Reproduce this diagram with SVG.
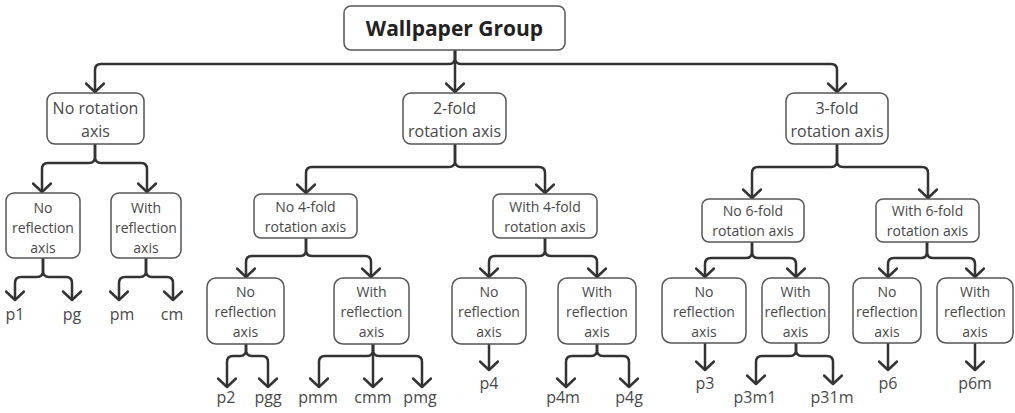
<svg xmlns="http://www.w3.org/2000/svg" width="1015" height="413" viewBox="0 0 1015 413">
<style>
.box{fill:#fff;stroke:#555;stroke-width:1.5}
.t{font-family:"Open Sans","Liberation Sans",sans-serif;fill:#484848;text-anchor:middle}
.t16{font-size:16px}
.t14{font-size:14px}
.leaf{font-family:"Open Sans","Liberation Sans",sans-serif;fill:#484848;text-anchor:middle;font-size:16px}
.root{font-family:"Open Sans","Liberation Sans",sans-serif;font-weight:bold;font-size:21px;fill:#222;text-anchor:middle}
.c{fill:none;stroke:#333;stroke-width:2.5;marker-end:url(#ah)}
</style>
<defs>
<marker id="ah" viewBox="0 0 20 20" refX="10" refY="10" markerUnits="userSpaceOnUse" markerWidth="20" markerHeight="20" orient="auto">
<path d="M1.5,1 L10,10 L1.5,19" fill="none" stroke="#333" stroke-width="2.5" stroke-linecap="round" stroke-linejoin="round"/>
</marker>
</defs>
<rect width="1015" height="413" fill="#fff"/>
<g id="connectors">
<path class="c" d="M455,50 V58 Q455,64 449,64 H101 Q95,64 95,70 V92"/>
<path class="c" d="M455,50 V92"/>
<path class="c" d="M455,50 V58 Q455,64 461,64 H831 Q837,64 837,70 V92"/>
<path class="c" d="M95,144 V157 Q95,163 89,163 H48 Q42,163 42,169 V192"/>
<path class="c" d="M95,144 V157 Q95,163 101,163 H141 Q147,163 147,169 V192"/>
<path class="c" d="M455,144 V161 Q455,167 449,167 H312 Q306,167 306,173 V193"/>
<path class="c" d="M455,144 V161 Q455,167 461,167 H539 Q545,167 545,173 V193"/>
<path class="c" d="M837,144 V161 Q837,167 831,167 H758 Q752,167 752,173 V198"/>
<path class="c" d="M837,144 V161 Q837,167 843,167 H922 Q928,167 928,173 V198"/>
<path class="c" d="M43,258 V271 Q43,277 37,277 H21 Q15,277 15,283 V300"/>
<path class="c" d="M43,258 V271 Q43,277 49,277 H66 Q72,277 72,283 V300"/>
<path class="c" d="M146,258 V271 Q146,277 140,277 H125 Q119,277 119,283 V300"/>
<path class="c" d="M146,258 V271 Q146,277 152,277 H167 Q173,277 173,283 V300"/>
<path class="c" d="M306,238 V250 Q306,256 300,256 H252 Q246,256 246,262 V277"/>
<path class="c" d="M306,238 V250 Q306,256 312,256 H365 Q371,256 371,262 V277"/>
<path class="c" d="M545,238 V250 Q545,256 539,256 H495 Q489,256 489,262 V277"/>
<path class="c" d="M545,238 V250 Q545,256 551,256 H591 Q597,256 597,262 V277"/>
<path class="c" d="M752,242 V252 Q752,258 746,258 H711 Q705,258 705,264 V277"/>
<path class="c" d="M752,242 V252 Q752,258 758,258 H790 Q796,258 796,264 V277"/>
<path class="c" d="M927,242 V252 Q927,258 921,258 H894 Q888,258 888,264 V277"/>
<path class="c" d="M927,242 V252 Q927,258 933,258 H969 Q975,258 975,264 V277"/>
<path class="c" d="M246,344 V350 Q246,356 240,356 H233 Q227,356 227,362 V387"/>
<path class="c" d="M246,344 V350 Q246,356 252,356 H262 Q268,356 268,362 V387"/>
<path class="c" d="M373,344 V350 Q373,356 367,356 H325 Q319,356 319,362 V387"/>
<path class="c" d="M373,344 V387"/>
<path class="c" d="M373,344 V350 Q373,356 379,356 H416 Q422,356 422,362 V387"/>
<path class="c" d="M489,344 V370"/>
<path class="c" d="M597,344 V350 Q597,356 591,356 H572 Q566,356 566,362 V387"/>
<path class="c" d="M597,344 V350 Q597,356 603,356 H623 Q629,356 629,362 V387"/>
<path class="c" d="M705,343 V370"/>
<path class="c" d="M796,343 V350 Q796,356 790,356 H762 Q756,356 756,362 V384"/>
<path class="c" d="M796,343 V350 Q796,356 802,356 H827 Q833,356 833,362 V384"/>
<path class="c" d="M888,343 V370"/>
<path class="c" d="M975,343 V370"/>
</g>
<g id="root"><rect class="box" x="344" y="6" width="221" height="44" rx="7"/><text class="root" x="454.5" y="36">Wallpaper Group</text></g>
<g id="n-norot"><rect class="box" x="47" y="93" width="97" height="51" rx="8"/><text class="t t16" x="95.5" y="114">No rotation</text><text class="t t16" x="95.5" y="137">axis</text></g>
<g id="n-2fold"><rect class="box" x="403" y="93" width="103" height="51" rx="8"/><text class="t t16" x="454.5" y="114">2-fold</text><text class="t t16" x="454.5" y="137">rotation axis</text></g>
<g id="n-3fold"><rect class="box" x="786" y="93" width="102" height="51" rx="8"/><text class="t t16" x="837" y="114">3-fold</text><text class="t t16" x="837" y="137">rotation axis</text></g>
<g id="n-a1"><rect class="box" x="6" y="193" width="74" height="65" rx="8"/><text class="t t14" x="43" y="213">No</text><text class="t t14" x="43" y="233">reflection</text><text class="t t14" x="43" y="253">axis</text></g>
<g id="n-a2"><rect class="box" x="111" y="193" width="70" height="65" rx="8"/><text class="t t14" x="146" y="213">With</text><text class="t t14" x="146" y="233">reflection</text><text class="t t14" x="146" y="253">axis</text></g>
<g id="n-b1"><rect class="box" x="254" y="194" width="103" height="44" rx="7"/><text class="t t14" x="305.5" y="212">No 4-fold</text><text class="t t14" x="305.5" y="232">rotation axis</text></g>
<g id="n-b2"><rect class="box" x="493" y="194" width="104" height="44" rx="7"/><text class="t t14" x="545" y="212">With 4-fold</text><text class="t t14" x="545" y="232">rotation axis</text></g>
<g id="n-c1"><rect class="box" x="702" y="199" width="102" height="43" rx="7"/><text class="t t14" x="753" y="216">No 6-fold</text><text class="t t14" x="753" y="236">rotation axis</text></g>
<g id="n-c2"><rect class="box" x="876" y="199" width="103" height="43" rx="7"/><text class="t t14" x="927.5" y="216">With 6-fold</text><text class="t t14" x="927.5" y="236">rotation axis</text></g>
<g id="n-b1a"><rect class="box" x="207" y="278" width="77" height="66" rx="9"/><text class="t t14" x="245.5" y="297">No</text><text class="t t14" x="245.5" y="317">reflection</text><text class="t t14" x="245.5" y="337">axis</text></g>
<g id="n-b1b"><rect class="box" x="334" y="278" width="75" height="66" rx="9"/><text class="t t14" x="371.5" y="297">With</text><text class="t t14" x="371.5" y="317">reflection</text><text class="t t14" x="371.5" y="337">axis</text></g>
<g id="n-b2a"><rect class="box" x="452" y="278" width="74" height="66" rx="9"/><text class="t t14" x="489" y="297">No</text><text class="t t14" x="489" y="317">reflection</text><text class="t t14" x="489" y="337">axis</text></g>
<g id="n-b2b"><rect class="box" x="558" y="278" width="78" height="66" rx="9"/><text class="t t14" x="597" y="297">With</text><text class="t t14" x="597" y="317">reflection</text><text class="t t14" x="597" y="337">axis</text></g>
<g id="n-c1a"><rect class="box" x="662" y="278" width="84" height="65" rx="9"/><text class="t t14" x="704" y="297">No</text><text class="t t14" x="704" y="317">reflection</text><text class="t t14" x="704" y="337">axis</text></g>
<g id="n-c1b"><rect class="box" x="762" y="278" width="67" height="65" rx="9"/><text class="t t14" x="795.5" y="297">With</text><text class="t t14" x="795.5" y="317">reflection</text><text class="t t14" x="795.5" y="337">axis</text></g>
<g id="n-c2a"><rect class="box" x="853" y="278" width="68" height="65" rx="9"/><text class="t t14" x="887" y="297">No</text><text class="t t14" x="887" y="317">reflection</text><text class="t t14" x="887" y="337">axis</text></g>
<g id="n-c2b"><rect class="box" x="937" y="278" width="76" height="65" rx="9"/><text class="t t14" x="975" y="297">With</text><text class="t t14" x="975" y="317">reflection</text><text class="t t14" x="975" y="337">axis</text></g>
<g id="leaves">
<text class="leaf" x="15" y="320">p1</text>
<text class="leaf" x="72" y="320">pg</text>
<text class="leaf" x="122" y="320">pm</text>
<text class="leaf" x="172" y="320">cm</text>
<text class="leaf" x="226" y="403">p2</text>
<text class="leaf" x="268" y="403">pgg</text>
<text class="leaf" x="318" y="403">pmm</text>
<text class="leaf" x="373" y="403">cmm</text>
<text class="leaf" x="420" y="403">pmg</text>
<text class="leaf" x="489" y="389">p4</text>
<text class="leaf" x="563" y="403">p4m</text>
<text class="leaf" x="629" y="403">p4g</text>
<text class="leaf" x="705" y="389">p3</text>
<text class="leaf" x="755" y="403">p3m1</text>
<text class="leaf" x="832" y="403">p31m</text>
<text class="leaf" x="888" y="389">p6</text>
<text class="leaf" x="975" y="389">p6m</text>
</g>
</svg>
